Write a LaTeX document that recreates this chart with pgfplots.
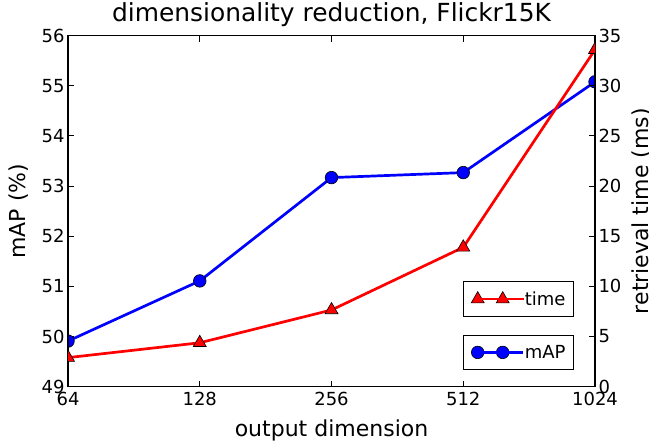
\documentclass[border=0pt]{standalone}
\usepackage{pgfplots}
\pgfplotsset{compat=1.18}
\usepackage{fontspec}
\setmainfont{DejaVu Sans}
\definecolor{pred}{RGB}{255,0,0}
\definecolor{pblue}{RGB}{0,0,255}
\pgfplotsset{
  every axis/.append style={
    tick align=inside, major tick length=6bp,
    every tick/.style={black, line width=1bp},
    axis line style={line width=1.3bp},
    /pgf/number format/assume math mode=true,
    ticklabel style={font=\fontsize{18bp}{20bp}\selectfont},
    label style={font=\fontsize{22bp}{26bp}\selectfont},
    clip marker paths=true,
    legend style={draw=black, line width=1bp, fill=white,
      font=\fontsize{18bp}{20bp}\selectfont, anchor=south east,
      inner xsep=8bp, inner ysep=10bp, nodes={inner sep=0bp}},
  },
  legend image code/.code={\draw[#1] plot coordinates {(0bp,0bp) (25bp,0bp)};
    \path (0bp,0bp) -- (45.8bp,0bp);},
}
\begin{document}
\begin{tikzpicture}
\useasboundingbox (-68bp,-56.3bp) rectangle (581bp,386.7bp);
\begin{axis}[
  at={(0,0)}, anchor=south west,
  scale only axis, width=527bp, height=351bp,
  xmode=log, log basis x=2, xmin=64, xmax=1024,
  xtick={64,128,256,512,1024}, xticklabels={64,128,256,512,1024},
  xticklabel style={yshift=-2bp},
  ymin=49, ymax=56, ytick={49,50,...,56},
  xtick pos=both, ytick pos=left,
  xlabel={output dimension}, ylabel={mAP (\%)},
  title={dimensionality reduction, Flickr15K},
  title style={font=\fontsize{24.9bp}{28bp}\selectfont, at={(axis description cs:0.5,1.024)}, anchor=base},
  xlabel style={at={(axis description cs:0.5,-0.1425)}, anchor=base},
  ylabel style={at={(axis description cs:-0.0816,0.5)}, anchor=base},
  legend style={at={(0.9602,0.047)}},
]
\addplot[pblue, line width=2.7bp, mark=*, mark size=6.3bp,
  mark options={draw=black, fill=pblue, line width=0.6bp}]
  coordinates {(64,49.91) (128,51.11) (256,53.17) (512,53.27) (1024,55.08)};
\addlegendentry{mAP}
\end{axis}
\begin{axis}[
  at={(0,0)}, anchor=south west,
  scale only axis, width=527bp, height=351bp,
  xmode=log, log basis x=2, xmin=64, xmax=1024,
  xtick=\empty,
  ymin=0, ymax=35, ytick={0,5,...,35},
  ytick pos=right, yticklabel pos=right,
  ylabel={retrieval time (ms)},
  ylabel style={at={(axis description cs:1.1015,0.5)}, anchor=base},
  legend style={at={(0.9602,0.198)}},
]
\addplot[pred, line width=2.7bp, mark=triangle*, mark size=7.5bp,
  mark options={draw=black, fill=pred, line width=0.6bp}]
  coordinates {(64,2.9) (128,4.38) (256,7.65) (512,13.9) (1024,33.6)};
\addlegendentry{time}
\end{axis}
\end{tikzpicture}
\end{document}
